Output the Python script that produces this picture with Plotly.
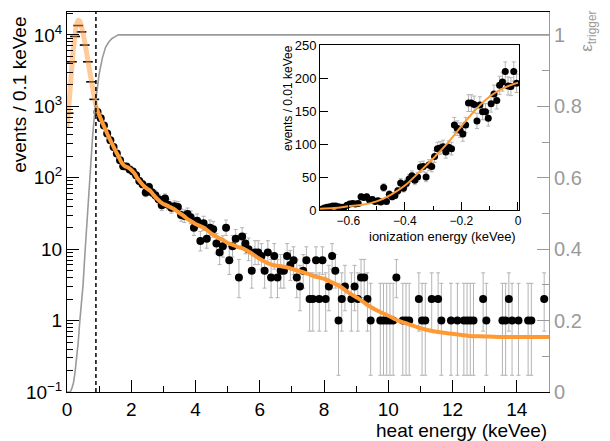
import numpy as np
import plotly.graph_objects as go

FONT = "Liberation Sans, Arial, Helvetica, sans-serif"
ORANGE = "#ff9933"
ORANGE_FADED = "rgba(255,153,51,0.5)"
GREY = "#9a9a9a"
ERR_GREY = "#b4b4b4"
THRESHOLD = 0.9  # keVee analysis threshold

# ---------------- main spectrum (0.1 keVee bins) ----------------
heat_bin_centers = np.round(np.arange(0.05, 15.0, 0.1), 2)
heat_counts = [
    800, 4200, 9500, 13500, 11000, 7200, 4200, 2200, 1250, 830,
    680, 540, 415, 335, 270, 218, 175, 145, 143, 130,
    122, 108, 90, 81, 62, 74, 62, 57, 50, 41,
    51, 42, 38, 40, 39, 30, 29, 31, 28, 20,
    25, 13, 23, 14, 20, 19, 12, 9, 11, 20,
    7, 11, 14, 4, 15, 12, 10, 5, 9, 9,
    8, 5, 9, 4, 8, 4, 5, 5, 8, 6,
    7, 4, 3, 5, 7, 2, 2, 7, 2, 7,
    2, 3, 8, 5, 1, 2, 3, 0, 2, 3,
    2, 4, 4, 2, 1, 0, 0, 1, 1, 1,
    1, 1, 4, 0, 1, 1, 1, 0, 0, 2,
    1, 1, 0, 2, 0, 2, 1, 0, 0, 1,
    0, 1, 0, 1, 1, 1, 1, 0, 0, 2,
    1, 0, 0, 0, 0, 1, 1, 2, 1, 0,
    1, 0, 0, 1, 1, 0, 0, 0, 2, 0,
]

# fit curve of the heat spectrum
fit_x = [0.0, 0.05, 0.1, 0.15, 0.2, 0.25, 0.3, 0.35, 0.4, 0.45, 0.5, 0.55, 0.6,
         0.65, 0.7, 0.75, 0.8, 0.85, 0.9, 1.0, 1.1, 1.2, 1.3, 1.4, 1.5, 1.6,
         1.7, 1.8, 1.9, 2.0, 2.1, 2.2, 2.3, 2.4, 2.5, 2.6, 2.7, 2.8, 2.9, 3.0,
         3.1, 3.2, 3.3, 3.4, 3.5, 3.6, 3.7, 3.8, 3.9, 4.0, 4.2, 4.35, 4.5, 4.7,
         4.86, 5.0, 5.18, 5.35, 5.5, 5.7, 5.9, 6.1, 6.4, 6.7, 6.94, 7.25, 7.5,
         7.75, 8.0, 8.2, 8.5, 8.8, 9.1, 9.4, 9.7, 10.0, 10.3, 10.6, 11.0, 11.4,
         11.9, 12.5, 13.0, 13.5, 15.0]
fit_y = [510, 900, 1800, 3500, 6500, 10000, 14000, 16000, 15500, 13000, 10500,
         8000, 6000, 4400, 3200, 2400, 1800, 1350, 1020, 760, 590, 470, 370,
         300, 243, 200, 163, 145, 139, 128, 115, 97, 85, 76, 70, 65, 57, 51, 46,
         43, 41, 39, 37, 34.5, 32, 30, 27.5, 25.5, 24, 22.5, 20.5, 18.6, 16.5,
         14.5, 13.4, 12.2, 11.4, 10.6, 10.1, 9.0, 7.8, 6.9, 6.0, 5.7, 5.4, 4.9,
         4.5, 4.1, 3.85, 3.5, 3.0, 2.4, 2.0, 1.6, 1.35, 1.17, 1.0, 0.9, 0.78,
         0.71, 0.66, 0.61, 0.6, 0.59, 0.59]

# trigger efficiency (right axis)
eff_x = [0.0, 0.1, 0.15, 0.2, 0.25, 0.3, 0.35, 0.4, 0.45, 0.5, 0.56, 0.64, 0.72,
         0.8, 0.9, 1.0, 1.1, 1.2, 1.3, 1.4, 1.5, 1.6, 15.0]
eff_y = [0.0, 0.0, 0.01, 0.025, 0.055, 0.09, 0.14, 0.2, 0.25, 0.3, 0.39, 0.5,
         0.61, 0.72, 0.82, 0.89, 0.935, 0.965, 0.98, 0.99, 0.995, 1.0, 1.0]

# ---------------- inset: ionization spectrum (0.01 keVee bins) ----------------
ion_bin_centers = np.round(np.arange(-0.695, 0.0, 0.01), 3)
ion_counts = [
    1, 3, 4, 5, 6, 6, 5, 4, 4, 7,
    9, 10, 9, 10, 20, 19, 20, 15, 16, 13,
    14, 12, 34, 13, 24, 20, 22, 29, 41, 33,
    40, 47, 52, 45, 50, 65, 66, 50, 68, 66,
    81, 93, 94, 96, 88, 95, 93, 129, 124, 121,
    115, 129, 162, 162, 160, 135, 159, 149, 149, 139,
    161, 176, 166, 189, 194, 210, 188, 187, 210, 192,
]
ion_fit_x = [-0.70, -0.65, -0.60, -0.55, -0.50, -0.45, -0.40, -0.35, -0.30,
             -0.25, -0.20, -0.15, -0.10, -0.05, 0.0]
ion_fit_y = [2, 3, 5.5, 8, 13, 23, 37, 57, 78, 101, 127, 152, 172, 185, 193]

# ---------------- tick labels ----------------
x_ticks = [0, 2, 4, 6, 8, 10, 12, 14]
y_ticks = [0.1, 1, 10, 100, 1000, 10000]
y_ticktext = ["10<sup>−1</sup>", "1", "10", "10<sup>2</sup>", "10<sup>3</sup>", "10<sup>4</sup>"]
eff_ticks = [0, 0.2, 0.4, 0.6, 0.8, 1.0]
eff_ticktext = ["0", "0.2", "0.4", "0.6", "0.8", "1"]
ion_xticks = [-0.6, -0.4, -0.2, 0.0]
ion_xticktext = ["−0.6", "−0.4", "−0.2", "0"]
ion_yticks = [0, 50, 100, 150, 200, 250]


def poisson_limits(n):
    n = np.asarray(n, dtype=float)
    up = n + np.sqrt(n + 0.75) + 1.0
    lo = n * (1.0 - 1.0 / (9.0 * n) - 1.0 / (3.0 * np.sqrt(n))) ** 3
    return n - lo, up - n


hc = np.array(heat_counts, dtype=float)
hx = heat_bin_centers
nz = hc > 0
below = nz & (hx < THRESHOLD)
above = nz & (hx > THRESHOLD)
em, ep = poisson_limits(hc[above])

fig = go.Figure()

# efficiency curve on secondary axis
fig.add_trace(go.Scatter(x=eff_x, y=eff_y, mode="lines", yaxis="y2",
                         line=dict(color=GREY, width=1.6), hoverinfo="skip"))

# points below threshold (faint marks)
fig.add_trace(go.Scatter(x=hx[below], y=hc[below], mode="markers",
                         marker=dict(symbol="line-ew", size=7,
                                     line=dict(color="black", width=1.6)),
                         hoverinfo="skip"))

# data points above threshold
fig.add_trace(go.Scatter(x=hx[above], y=hc[above], mode="markers",
                         marker=dict(color="black", size=8),
                         error_y=dict(type="data", array=ep, arrayminus=em,
                                      color=ERR_GREY, thickness=1, width=2),
                         hoverinfo="skip"))

fx = np.array(fit_x)
fy = np.array(fit_y)
lo_mask = fx <= THRESHOLD
hi_mask = fx >= THRESHOLD
fig.add_trace(go.Scatter(x=fx[lo_mask], y=fy[lo_mask], mode="lines",
                         line=dict(color=ORANGE_FADED, width=5, shape="spline"),
                         hoverinfo="skip"))
fig.add_trace(go.Scatter(x=fx[hi_mask], y=fy[hi_mask], mode="lines",
                         line=dict(color=ORANGE, width=4, shape="spline", smoothing=0.6),
                         hoverinfo="skip"))

# inset
ic = np.array(ion_counts, dtype=float)
fig.add_trace(go.Scatter(x=ion_bin_centers, y=ic, mode="markers",
                         xaxis="x3", yaxis="y3",
                         marker=dict(color="black", size=7),
                         error_y=dict(type="data", array=np.sqrt(ic),
                                      color=ERR_GREY, thickness=1, width=2),
                         hoverinfo="skip"))
fig.add_trace(go.Scatter(x=ion_fit_x, y=ion_fit_y, mode="lines",
                         xaxis="x3", yaxis="y3",
                         line=dict(color=ORANGE, width=2, shape="spline"),
                         hoverinfo="skip"))

# threshold marker line
fig.add_shape(type="line", xref="x", yref="paper", x0=THRESHOLD, x1=THRESHOLD,
              y0=0, y1=1, line=dict(color="black", width=1.5, dash="4px,3px"))

# page body has an 8px margin: figure is sized/offset so the plot area lands
# at x 67..549, y 12..392 in the window
fig.update_layout(
    width=602, height=433,
    margin=dict(l=59, r=61, t=4, b=49, autoexpand=False),
    plot_bgcolor="white", paper_bgcolor="white",
    showlegend=False,
    font=dict(family=FONT, size=19, color="black"),
    xaxis=dict(domain=[0, 1], anchor="y", range=[0, 15], automargin=False,
               tickmode="array", tickvals=x_ticks,
               ticks="inside", ticklen=12, tickwidth=1, tickcolor="black",
               minor=dict(tickmode="array", tickvals=[1, 3, 5, 7, 9, 11, 13, 15],
                          ticks="inside", ticklen=6, tickcolor="black"),
               showline=True, linecolor="black", linewidth=1, mirror=True,
               showgrid=False, zeroline=False, tickfont=dict(size=19)),
    yaxis=dict(type="log", range=[-1, 4.32], anchor="x", automargin=False,
               tickmode="array", tickvals=y_ticks, ticktext=y_ticktext,
               ticks="inside", ticklen=12, tickwidth=1, tickcolor="black",
               minor=dict(tickmode="array",
                          tickvals=[m * 10 ** d for d in range(-1, 5) for m in range(2, 10)],
                          ticks="inside", ticklen=6, tickcolor="black"),
               showline=True, linecolor="black", linewidth=1, mirror=False,
               showgrid=False, zeroline=False, tickfont=dict(size=19)),
    yaxis2=dict(overlaying="y", side="right", anchor="x", range=[0, 1.064],
                automargin=False,
                tickmode="array", tickvals=eff_ticks, ticktext=eff_ticktext,
                ticks="inside", ticklen=12, tickwidth=1, tickcolor=GREY,
                minor=dict(tickmode="array", tickvals=[0.1, 0.3, 0.5, 0.7, 0.9],
                           ticks="inside", ticklen=7, tickcolor=GREY),
                showline=True, linecolor=GREY, linewidth=1,
                showgrid=False, zeroline=False,
                tickfont=dict(size=20, color=GREY)),
    xaxis3=dict(domain=[0.525, 0.938], anchor="y3", range=[-0.7, 0.004],
                automargin=False,
                tickmode="array", tickvals=ion_xticks, ticktext=ion_xticktext,
                ticks="inside", ticklen=8, tickcolor="black",
                minor=dict(tickmode="array", tickvals=[-0.7, -0.5, -0.3, -0.1],
                           ticks="inside", ticklen=4, tickcolor="black"),
                showline=True, linecolor="black", linewidth=1, mirror=True,
                showgrid=False, zeroline=False, tickfont=dict(size=12)),
    yaxis3=dict(domain=[0.479, 0.913], anchor="x3", range=[0, 250],
                automargin=False,
                tickmode="array", tickvals=ion_yticks,
                ticks="inside", ticklen=8, tickcolor="black",
                showline=True, linecolor="black", linewidth=1, mirror=True,
                showgrid=False, zeroline=False, tickfont=dict(size=13)),
    annotations=[
        dict(text="events / 0.1 keVee", textangle=-90, xref="paper", yref="paper",
             x=-0.1, y=0.992, xanchor="center", yanchor="top", showarrow=False,
             font=dict(size=19, color="black")),
        dict(text="heat energy (keVee)", xref="paper", yref="paper",
             x=1.0, y=-0.1, xanchor="right", yanchor="middle", showarrow=False,
             font=dict(size=19, color="black")),
        dict(text="ε<sub>trigger</sub>", textangle=-90, xref="paper", yref="paper",
             x=(601 - 67) / 482, y=1.007, xanchor="right", yanchor="top",
             showarrow=False, font=dict(size=17, color=GREY)),
        dict(text="events / 0.01 keVee", textangle=-90, xref="paper", yref="paper",
             x=(288 - 67) / 482, y=(392 - 43) / 380, xanchor="center", yanchor="top",
             showarrow=False, font=dict(size=12, color="black")),
        dict(text="ionization energy (keVee)", xref="paper", yref="paper",
             x=(518 - 67) / 482, y=(392 - 237) / 380, xanchor="right", yanchor="middle",
             showarrow=False, font=dict(size=13, color="black")),
    ],
)

fig.write_html("out.html")
